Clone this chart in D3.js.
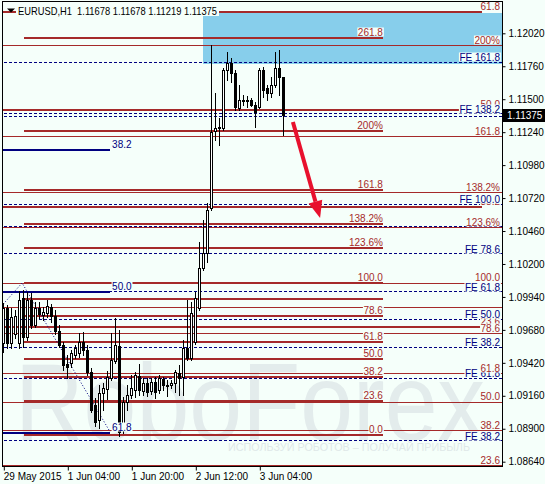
<!DOCTYPE html>
<html><head><meta charset="utf-8">
<script src="https://cdn.jsdelivr.net/npm/d3@7"></script>
<style>
html,body{margin:0;padding:0;background:#F5FFFA;}
svg{display:block;}
text{font-family:"Liberation Sans",Arial,sans-serif;}
</style></head><body>
<svg id="chart" width="545" height="484"></svg>
<script>
// ---------------- DATA ----------------
const symbol = "EURUSD,H1";
const barOpen  = [1.09577,1.09853,1.09577,1.09648,1.09577,1.09932,1.09624,1.09916,1.09719,1.09853,1.09798,1.09813,1.09861,1.09790,1.09671,1.09561,1.09411,1.09419,1.09482,1.09498,1.09585,1.09522,1.09348,1.09088,1.08969,1.09182,1.09214,1.09301,1.09435,1.09553,1.08946,1.09111,1.09166,1.09206,1.09316,1.09198,1.09261,1.09198,1.09269,1.09206,1.09293,1.09245,1.09245,1.09261,1.09340,1.09309,1.09537,1.09458,1.09585,1.09853,1.10168,1.10287,1.10642,1.11249,1.11273,1.11273,1.11731,1.11786,1.11707,1.11431,1.11494,1.11486,1.11494,1.11455,1.11439,1.11731,1.11589,1.11549,1.11612,1.11746,1.11678];
const barHigh  = [1.09892,1.09877,1.09853,1.09837,1.09987,1.09995,1.09979,1.09971,1.09900,1.09900,1.09861,1.09916,1.09884,1.09837,1.09719,1.09585,1.09482,1.09522,1.09561,1.09656,1.09664,1.09561,1.09380,1.09143,1.09245,1.09261,1.09356,1.09656,1.09774,1.09679,1.09151,1.09245,1.09324,1.09348,1.09411,1.09301,1.09301,1.09301,1.09309,1.09324,1.09309,1.09285,1.09285,1.09364,1.09403,1.09600,1.09916,1.09900,1.09979,1.10374,1.10547,1.10681,1.11928,1.11549,1.11352,1.11746,1.11873,1.11825,1.11731,1.11612,1.11533,1.11526,1.11510,1.11478,1.11746,1.11754,1.11612,1.11676,1.11873,1.11889,1.11678];
const barLow   = [1.09506,1.09537,1.09537,1.09616,1.09537,1.09545,1.09600,1.09695,1.09703,1.09774,1.09758,1.09782,1.09742,1.09648,1.09545,1.09364,1.09301,1.09387,1.09458,1.09466,1.09482,1.09324,1.09032,1.08922,1.08906,1.09048,1.09135,1.09285,1.09419,1.08843,1.08867,1.09048,1.09143,1.09151,1.09166,1.09166,1.09159,1.09174,1.09143,1.09182,1.09206,1.09159,1.09222,1.09190,1.09166,1.09166,1.09443,1.09443,1.09569,1.09837,1.10153,1.10216,1.10626,1.11178,1.11139,1.11257,1.11652,1.11636,1.11415,1.11415,1.11455,1.11439,1.11447,1.11281,1.11431,1.11518,1.11494,1.11518,1.11597,1.11533,1.11219];
const barClose = [1.09853,1.09577,1.09782,1.09790,1.09916,1.09624,1.09916,1.09719,1.09853,1.09806,1.09821,1.09869,1.09790,1.09671,1.09561,1.09403,1.09387,1.09498,1.09537,1.09585,1.09522,1.09348,1.09048,1.08953,1.09182,1.09222,1.09309,1.09443,1.09561,1.08875,1.09111,1.09166,1.09222,1.09324,1.09206,1.09261,1.09190,1.09269,1.09190,1.09301,1.09245,1.09237,1.09261,1.09348,1.09301,1.09537,1.09458,1.09813,1.09932,1.10168,1.10287,1.10626,1.11242,1.11273,1.11281,1.11731,1.11786,1.11707,1.11439,1.11494,1.11486,1.11494,1.11455,1.11399,1.11731,1.11573,1.11549,1.11612,1.11746,1.11676,1.11375];

const xTickBars   = [0, 16, 32, 48, 64];
const xTickLabels = ["29 May 2015", "1 Jun 04:00", "1 Jun 20:00", "2 Jun 12:00", "3 Jun 04:00"];
const yTickValues = [1.12020,1.11760,1.11500,1.11240,1.10980,1.10720,1.10460,1.10200,1.09940,1.09680,1.09420,1.09160,1.08900,1.08640];

// Fibonacci (left-labelled, thick) levels
const fiboAPrices = [1.11986,1.11252,1.10784,1.10516,1.10329,1.10048,1.09924,1.09790,1.09587,1.09451,1.09311,1.09122,1.08851];
const fiboALabels = ["261.8","200%","161.8","138.2%","123.6%","100.0","","78.6","61.8","50.0","38.2","23.6","0.0"];
const fiboABars   = [5.2, 94.9];
// Fibonacci (right-labelled, thin) levels
const fiboBPrices = [1.11920,1.11204,1.10763,1.10484,1.10048,1.09858,1.09648,1.09332,1.09109,1.08885,1.08609];
const fiboBLabels = ["200%","161.8","138.2%","123.6%","100.0","","78.6","61.8","50.0","38.2","23.6"];
// Fibonacci (right-labelled, thick) levels
const fiboCPrices = [1.12188,1.11418,1.10650,1.09705];
const fiboCLabels = ["61.8","50.0","38.2","23.6"];
const fiboCBars   = [0, 119.7];
// Fibo expansion (navy dashed) levels
const fePrices = [1.11791,1.11386,1.11360,1.10673,1.10492,1.10279,1.09981,1.09764,1.09543,1.09298,1.08804];
const feLabels = ["FE 161.8","FE 138.2","","FE 100.0","","FE 78.6","FE 61.8","FE 50.0","FE 38.2","FE 61.8","FE 38.2"];
// Navy retracement (short solid)
const navyPrices = [1.11100, 1.09981, 1.08869];
const navyLabels = ["38.2", "50.0", "61.8"];
const navyBars   = [0, 26.7];
// Navy dotted trend line anchors
const trendBars   = [0, 4.7, 26.7];
const trendPrices = [1.09884, 1.10050, 1.08875];
// Target zone rectangle
const zoneBars   = [49.9, 124.7];
const zonePrices = [1.12180, 1.11778];
// Forecast arrow
const arrowBars   = [72.4, 79.2];
const arrowPrices = [1.11320, 1.10563];

// ---------------- DRAW ----------------
const BG = "#F5FFFA", BROWN = "#A52A2A", NAVY = "#000080";
const svg = d3.select("#chart");
svg.append("rect").attr("width",545).attr("height",484).attr("fill",BG);

const x = d3.scaleLinear().domain([0, 124.7]).range([3.3, 502.1]);
const y = d3.scaleLinear().domain([1.08606, 1.12267]).range([466, 2]);
const p1 = v => Math.floor(v) + 0.5;

const defs = svg.append("defs");
defs.append("clipPath").attr("id","plotclip").append("rect")
  .attr("x",3).attr("y",2).attr("width",499).attr("height",464);

const plot = svg.append("g").attr("clip-path","url(#plotclip)");

// watermark
plot.append("text").attr("x",15).attr("y",440).attr("font-size",110)
  .attr("textLength",470).attr("lengthAdjust","spacingAndGlyphs")
  .attr("fill","#e3ecec").text("RoboForex");
plot.append("text").attr("x",228).attr("y",451).attr("font-size",11)
  .attr("textLength",242).attr("lengthAdjust","spacingAndGlyphs")
  .attr("fill","#dfe8e8").text("ИСПОЛЬЗУЙ РОБОТОВ – ПОЛУЧАЙ ПРИБЫЛЬ");

// zone
plot.append("rect")
  .attr("x", Math.round(x(zoneBars[0]))).attr("y", Math.round(y(zonePrices[0])))
  .attr("width", Math.round(x(zoneBars[1])) - Math.round(x(zoneBars[0])))
  .attr("height", Math.round(y(zonePrices[1])) - Math.round(y(zonePrices[0])))
  .attr("fill","#87CEEB");

const lines = plot.append("g");
function hline(price, b0, b1, color, w, dash) {
  const yy = w === 1 ? p1(y(price)) : Math.round(y(price));
  const l = lines.append("line").attr("x1", x(b0)).attr("x2", x(b1))
    .attr("y1", yy).attr("y2", yy).attr("stroke", color).attr("stroke-width", w)
    .attr("shape-rendering","crispEdges");
  if (dash) l.attr("stroke-dasharray", dash);
}
fiboBPrices.forEach(p => hline(p, -1, 130, BROWN, 1));
fePrices.forEach(p => hline(p, -1, 130, NAVY, 1, "3,2"));
fiboCPrices.forEach(p => hline(p, fiboCBars[0]-1, fiboCBars[1], BROWN, 2));
fiboAPrices.forEach(p => hline(p, fiboABars[0], fiboABars[1], BROWN, 2));
navyPrices.forEach(p => hline(p, navyBars[0]-1, navyBars[1], NAVY, 2));
lines.append("path")
  .attr("d", d3.line().x(d => x(d[0])).y(d => y(d[1]))(trendBars.map((b,i)=>[b, trendPrices[i]])))
  .attr("fill","none").attr("stroke",NAVY).attr("stroke-width",1).attr("stroke-dasharray","1,2");

// candles
const cg = plot.append("g");
barOpen.forEach((o, i) => {
  const c = barClose[i], h = barHigh[i], l = barLow[i];
  const cx = Math.round(x(i));
  cg.append("line").attr("x1", cx+0.5).attr("x2", cx+0.5)
    .attr("y1", Math.round(y(h))).attr("y2", Math.round(y(l)) + 1)
    .attr("stroke","#000").attr("shape-rendering","crispEdges");
  const top = Math.round(y(Math.max(o,c))), bot = Math.round(y(Math.min(o,c)));
  cg.append("rect").attr("x", cx-0.5).attr("y", top+0.5)
    .attr("width", 2).attr("height", Math.max(0, bot-top))
    .attr("fill", c >= o ? "#fff" : "#000").attr("stroke","#000")
    .attr("shape-rendering","crispEdges");
});

// arrow
const ax0 = x(arrowBars[0]), ay0 = y(arrowPrices[0]), ax1 = x(arrowBars[1]), ay1 = y(arrowPrices[1]);
const ang = Math.atan2(ay1-ay0, ax1-ax0);
const headL = 17, headW = 7;
const bx = ax1 - headL*Math.cos(ang), by = ay1 - headL*Math.sin(ang);
plot.append("line").attr("x1",ax0).attr("y1",ay0).attr("x2",bx).attr("y2",by)
  .attr("stroke","#E8112D").attr("stroke-width",4);
plot.append("path").attr("d", `M${ax1},${ay1} L${bx + headW*Math.sin(ang)},${by - headW*Math.cos(ang)} L${bx - headW*Math.sin(ang)},${by + headW*Math.cos(ang)} Z`)
  .attr("fill","#E8112D");

// labels with background boxes
const lab = plot.append("g").attr("font-size",10);
function boxLabel(txt, xp, yb, anchor, color) {
  if (!txt) return;
  const g = lab.append("g");
  const r = g.append("rect").attr("fill", BG);
  const t = g.append("text").attr("x", xp).attr("y", yb).attr("text-anchor", anchor).attr("fill", color).text(txt);
  const b = t.node().getBBox();
  r.attr("x", b.x - 0.5).attr("y", yb - 8.5).attr("width", b.width + 1).attr("height", 9);
}
fiboCPrices.forEach((p,i) => boxLabel(fiboCLabels[i], 500, Math.round(y(p)) - 2, "end", BROWN));
fePrices.forEach((p,i) => boxLabel(feLabels[i], 500, Math.round(y(p)) - 1, "end", NAVY));
fiboBPrices.forEach((p,i) => boxLabel(fiboBLabels[i], 500, Math.round(y(p)) - 2, "end", BROWN));
fiboAPrices.forEach((p,i) => boxLabel(fiboALabels[i], x(fiboABars[1]), Math.round(y(p)) - 2, "end", BROWN));
navyPrices.forEach((p,i) => boxLabel(navyLabels[i], x(navyBars[1]) + 2, Math.round(y(p)) - 2, "start", NAVY));

// frame
svg.append("rect").attr("x",2.5).attr("y",1.5).attr("width",500).attr("height",465)
  .attr("fill","none").attr("stroke","#000").attr("shape-rendering","crispEdges");

// axes
const yAxis = svg.append("g").attr("transform","translate(502.5,0)")
  .call(d3.axisRight(y).tickValues(yTickValues).tickSize(3).tickPadding(3).tickFormat(d3.format(".5f")));
yAxis.select(".domain").remove();
yAxis.selectAll("text").attr("font-size",10).attr("font-family","Liberation Sans, Arial, sans-serif").attr("fill","#000");
yAxis.selectAll("line").attr("stroke","#000");

const xAxis = svg.append("g").attr("transform","translate(0,466.5)")
  .call(d3.axisBottom(x).tickValues(xTickBars).tickSize(4).tickFormat((d,i) => xTickLabels[i]));
xAxis.select(".domain").remove();
xAxis.selectAll(".tick line").attr("transform","translate(0.5,0)").attr("stroke","#000");
xAxis.selectAll("text").attr("text-anchor","start").attr("x",0).attr("y",13).attr("dy",0)
  .attr("font-size",10).attr("font-family","Liberation Sans, Arial, sans-serif").attr("fill","#000");

// current price
const last = barClose[barClose.length-1];
const cy = y(last);
svg.append("rect").attr("x",503).attr("y",Math.round(cy)-6).attr("width",42).attr("height",13).attr("fill","#000");
svg.append("text").attr("x",507).attr("y",Math.round(cy)+4).attr("font-size",10).attr("fill","#fff")
  .text(d3.format(".5f")(last));

// header
const hdr = svg.append("g");
const n = barOpen.length - 1;
const hText = `${symbol}  ${d3.format(".5f")(barOpen[n])} ${d3.format(".5f")(barHigh[n])} ${d3.format(".5f")(barLow[n])} ${d3.format(".5f")(barClose[n])}`;
hdr.append("rect").attr("x",16).attr("y",5).attr("width",203).attr("height",11).attr("fill",BG);
hdr.append("text").attr("x",18).attr("y",15).attr("font-size",10.5).attr("textLength",199)
  .attr("lengthAdjust","spacingAndGlyphs").attr("fill","#000").attr("xml:space","preserve").text(hText);
hdr.append("path").attr("d","M7,8.5 L15,8.5 L11,12.5 Z").attr("fill","#000");
</script>
</body></html>
